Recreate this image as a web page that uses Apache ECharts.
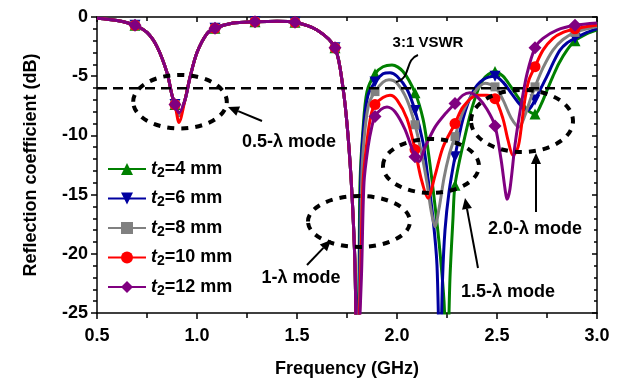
<!DOCTYPE html>
<html>
<head>
<meta charset="utf-8">
<script src="https://cdn.jsdelivr.net/npm/echarts@6/dist/echarts.min.js"></script>
<style>
  html, body { margin: 0; padding: 0; background: #fff; }
  #chart { width: 622px; height: 384px; }
</style>
</head>
<body>
<div id="chart"></div>
<script>
// ---- Data: reflection coefficient (dB) versus frequency (GHz) ----
const thicknessMm = [4, 6, 8, 10, 12];
const markerFreqs = [0.69, 0.89, 1.09, 1.29, 1.49, 1.69, 1.89, 2.09, 2.29, 2.49, 2.69, 2.89];

// Part of the response shared by all thicknesses (0.5-λ mode and the 1-λ notch)
const headFreq = [0.5, 0.6, 0.69, 0.75, 0.8, 0.85, 0.875, 0.89, 0.91, 0.94, 0.965, 1.0, 1.05, 1.09,
                  1.18, 1.29, 1.4, 1.49, 1.6, 1.69, 1.73, 1.755, 1.775, 1.79, 1.8];
const headDb = [-0.1, -0.3, -0.7, -1.3, -2.5, -4.7, -6.6, -7.4, null, -7.0, -5.1, -3.0, -1.4, -0.95,
                -0.5, -0.4, -0.35, -0.45, -1.1, -2.6, -6.0, -10.0, -15.0, -21.0, -30.0];
// depth of the 0.5-λ notch for each thickness
const halfLambdaDipDb = [-8.3, -8.3, -8.3, -8.9, -8.1];

// 1-λ, 1.5-λ and 2.0-λ region for each thickness: [GHz, dB]
const tailT4 = [[1.81,-22],[1.815,-14],[1.83,-9.5],[1.85,-6.3],[1.89,-4.8],[1.93,-4.2],[1.975,-4.05],
  [2.03,-4.6],[2.09,-6.4],[2.13,-8.6],[2.155,-11.2],[2.18,-14.5],[2.21,-19],[2.235,-24],[2.25,-30],
  [2.265,-22],[2.28,-17],[2.29,-14.2],[2.33,-10.8],[2.38,-7.4],[2.43,-5.3],[2.49,-4.6],[2.53,-5.0],
  [2.57,-5.9],[2.61,-6.9],[2.65,-7.8],[2.69,-8.2],[2.72,-7.4],[2.75,-6.2],[2.78,-5.0],[2.81,-3.9],
  [2.85,-2.8],[2.89,-2.0],[2.95,-1.4],[3.0,-1.1]];
const tailT6 = [[1.812,-22],[1.82,-13],[1.835,-9],[1.855,-6.6],[1.89,-5.5],[1.93,-4.8],[1.965,-4.7],
  [2.0,-5.0],[2.05,-6.1],[2.09,-7.9],[2.13,-10.6],[2.15,-13],[2.18,-17],[2.2,-21],[2.215,-30],
  [2.228,-22],[2.24,-18],[2.26,-14.8],[2.29,-11.8],[2.33,-8.6],[2.38,-6.3],[2.43,-5.3],[2.49,-5.0],
  [2.53,-5.5],[2.57,-6.4],[2.61,-7.3],[2.65,-7.9],[2.67,-7.6],[2.69,-7.0],[2.72,-6.0],[2.75,-5.0],
  [2.78,-3.9],[2.815,-2.8],[2.85,-2.2],[2.89,-1.8],[2.95,-1.3],[3.0,-1.0]];
const tailT8 = [[1.815,-22],[1.825,-13],[1.84,-9.5],[1.86,-7.3],[1.89,-6.3],[1.93,-5.5],[1.96,-5.3],
  [2.0,-5.6],[2.05,-7.0],[2.09,-9.1],[2.12,-11.3],[2.15,-14],[2.17,-16.3],[2.19,-17.7],[2.21,-16.2],
  [2.235,-13.6],[2.26,-11.7],[2.29,-10.1],[2.33,-8.0],[2.38,-6.5],[2.44,-5.6],[2.49,-5.9],[2.53,-7.0],
  [2.57,-8.5],[2.61,-9.3],[2.64,-8.3],[2.67,-6.8],[2.69,-5.9],[2.73,-4.3],[2.78,-2.8],[2.83,-1.9],
  [2.89,-1.3],[2.95,-1.0],[3.0,-0.8]];
const tailT10 = [[1.818,-22],[1.83,-14],[1.85,-10.5],[1.87,-8.3],[1.89,-7.4],[1.93,-6.8],[1.965,-6.6],
  [2.0,-7.0],[2.05,-8.6],[2.09,-11.2],[2.12,-13.6],[2.155,-15.3],[2.19,-13.4],[2.23,-11.0],[2.29,-9.0],
  [2.33,-7.6],[2.4,-6.6],[2.45,-6.6],[2.49,-6.9],[2.53,-8.6],[2.555,-10.4],[2.58,-11.7],[2.605,-11.0],
  [2.62,-9.5],[2.64,-6.9],[2.66,-5.3],[2.69,-4.2],[2.73,-2.8],[2.78,-1.8],[2.83,-1.3],[2.89,-1.0],
  [2.95,-0.8],[3.0,-0.7]];
const tailT12 = [[1.822,-22],[1.835,-14],[1.855,-11],[1.875,-9.2],[1.89,-8.4],[1.92,-7.8],[1.95,-7.6],
  [1.99,-8.0],[2.04,-9.5],[2.09,-11.8],[2.11,-12.2],[2.14,-11.0],[2.19,-9.3],[2.24,-8.2],[2.29,-7.3],
  [2.33,-6.6],[2.365,-6.4],[2.41,-6.9],[2.45,-7.8],[2.49,-9.2],[2.52,-12.0],[2.54,-14.5],[2.55,-15.4],
  [2.565,-14.5],[2.59,-10.8],[2.62,-7.5],[2.65,-4.8],[2.69,-2.6],[2.73,-1.8],[2.8,-1.1],[2.89,-0.7],
  [3.0,-0.5]];
const tails = [tailT4, tailT6, tailT8, tailT10, tailT12];

// 3:1 VSWR reference level
const vswrDb = -6.02;

// Axis ticks
const xTicks = { min: 0.5, max: 3.0, step: 0.5 };
const yTicks = { min: -25, max: 0, step: 5 };

// ---- Styling ----
const FONT = 'Arial, "Liberation Sans", Helvetica, sans-serif';
const colors = ['#008000', '#0000A0', '#808080', '#FF0000', '#800080'];
const symbols = ['triangle', 'triangle', 'rect', 'circle', 'diamond'];
const symbolRotations = [0, 180, 0, 0, 0];
const symbolSizes = [11, 11, 9, 11, 13];

// Annotation layout, in axis units (GHz, dB)
const modeLabels = ['0.5-λ mode', '1-λ mode', '1.5-λ mode', '2.0-λ mode'];
const modeLabelAt = [[1.46, -10.56], [1.52, -22.05], [2.555, -23.2], [2.69, -17.9]];
const modeRings = [[0.915, -7.15, 0.234, 2.26], [1.81, -17.27, 0.255, 2.15],
                   [2.17, -12.58, 0.24, 2.28], [2.625, -8.78, 0.255, 2.62]];
const modeArrows = [[[1.325, -8.78], [1.155, -7.6]], [[1.55, -20.95], [1.67, -18.83]],
                    [[2.405, -21.2], [2.34, -15.29]], [[2.695, -16.47], [2.695, -11.49]]];
const vswrLabelAt = [2.155, -2.2];
const vswrPointer = [[2.105, -3.21], [2.035, -3.63], [2.075, -5.15], [1.995, -5.49]];

const names = thicknessMm.map(t => 't2=' + t + ' mm');
const isMarker = f => markerFreqs.some(m => Math.abs(m - f) < 1e-6);

function buildSeriesData(i) {
  const pts = headFreq.map((f, k) => [f, headDb[k] === null ? halfLambdaDipDb[i] : headDb[k]]);
  return pts.concat(tails[i]).map(p => isMarker(p[0]) ? { value: p } : { value: p, symbol: 'none' });
}

const series = thicknessMm.map((t, i) => ({
  name: names[i],
  type: 'line',
  data: buildSeriesData(i),
  smooth: 0.3,
  clip: true,
  symbol: symbols[i],
  symbolRotate: symbolRotations[i],
  symbolSize: symbolSizes[i],
  showSymbol: true,
  showAllSymbol: true,
  lineStyle: { color: colors[i], width: 3 },
  itemStyle: { color: colors[i] },
  z: 2 + i
}));

series.push({
  name: 'VSWR',
  type: 'line',
  data: [[xTicks.min, vswrDb], [xTicks.max, vswrDb]],
  symbol: 'none',
  lineStyle: { color: '#000', width: 2.6, type: [10, 6] },
  z: 10,
  silent: true
});

const axisLineStyle = { color: '#000', width: 1.5 };
const tickLabel = { color: '#000', fontFamily: FONT, fontWeight: 'bold', fontSize: 18 };

const chart = echarts.init(document.getElementById('chart'), null, { renderer: 'canvas' });
chart.setOption({
  animation: false,
  backgroundColor: '#fff',
  grid: { left: 97, right: 25, top: 17, bottom: 71 },
  legend: {
    data: names,
    orient: 'vertical',
    left: 107,
    top: 160,
    padding: 0,
    itemWidth: 38,
    itemHeight: 15,
    itemGap: 9.5,
    formatter: name => '{i|t}{s|2}{n|' + name.slice(2) + '}',
    textStyle: {
      color: '#000',
      fontFamily: FONT,
      rich: {
        i: { fontFamily: FONT, fontStyle: 'italic', fontWeight: 'bold', fontSize: 18, lineHeight: 22, color: '#000' },
        s: { fontFamily: FONT, fontWeight: 'bold', fontSize: 14, lineHeight: 14, verticalAlign: 'bottom', color: '#000' },
        n: { fontFamily: FONT, fontWeight: 'bold', fontSize: 18, lineHeight: 22, color: '#000' }
      }
    }
  },
  xAxis: [{
    type: 'value', min: xTicks.min, max: xTicks.max, interval: xTicks.step,
    name: 'Frequency (GHz)', nameLocation: 'middle', nameGap: 47,
    nameTextStyle: { color: '#000', fontFamily: FONT, fontWeight: 'bold', fontSize: 18 },
    axisLine: { show: true, onZero: false, lineStyle: axisLineStyle },
    axisTick: { show: true, inside: false, length: 6, lineStyle: axisLineStyle },
    minorTick: { show: true, splitNumber: 2, length: 5, lineStyle: axisLineStyle },
    axisLabel: Object.assign({ margin: 14, formatter: v => v.toFixed(1) }, tickLabel),
    splitLine: { show: false }
  }, {
    type: 'value', position: 'top', min: xTicks.min, max: xTicks.max, interval: xTicks.step,
    axisLine: { show: true, onZero: false, lineStyle: axisLineStyle },
    axisTick: { show: true, inside: true, length: 5, lineStyle: axisLineStyle },
    minorTick: { show: true, splitNumber: 2, length: 4, lineStyle: axisLineStyle },
    axisLabel: { show: false },
    splitLine: { show: false }
  }],
  yAxis: [{
    type: 'value', min: yTicks.min, max: yTicks.max, interval: yTicks.step,
    name: 'Reflection coefficient (dB)', nameLocation: 'middle', nameGap: 57,
    nameTextStyle: { color: '#000', fontFamily: FONT, fontWeight: 'bold', fontSize: 18 },
    axisLine: { show: true, onZero: false, lineStyle: axisLineStyle },
    axisTick: { show: true, inside: false, length: 6, lineStyle: axisLineStyle },
    minorTick: { show: true, splitNumber: 5, length: 4, lineStyle: axisLineStyle },
    axisLabel: Object.assign({ margin: 9 }, tickLabel),
    splitLine: { show: false }
  }, {
    type: 'value', position: 'right', min: yTicks.min, max: yTicks.max, interval: yTicks.step,
    axisLine: { show: true, onZero: false, lineStyle: axisLineStyle },
    axisTick: { show: true, inside: true, length: 5, lineStyle: axisLineStyle },
    minorTick: { show: true, splitNumber: 5, length: 3, lineStyle: axisLineStyle },
    axisLabel: { show: false },
    splitLine: { show: false }
  }],
  series: series
});

// ---- Annotations: mode rings, arrows and labels ----
const px = p => chart.convertToPixel({ xAxisIndex: 0, yAxisIndex: 0 }, p);
const annoFont = 'bold 18px ' + FONT;
const graphics = [];

modeRings.forEach(r => {
  const c = px([r[0], r[1]]);
  const e = px([r[0] + r[2], r[1] - r[3]]);
  graphics.push({
    type: 'ellipse', z: 100, silent: true,
    shape: { cx: c[0], cy: c[1], rx: Math.abs(e[0] - c[0]), ry: Math.abs(e[1] - c[1]) },
    style: { fill: 'none', stroke: '#000', lineWidth: 4, lineDash: [7, 7] }
  });
});

function arrow(from, to) {
  const a = px(from), b = px(to);
  const ang = Math.atan2(b[1] - a[1], b[0] - a[0]);
  const len = 11, half = 5;
  const base = [b[0] - len * Math.cos(ang), b[1] - len * Math.sin(ang)];
  graphics.push({
    type: 'line', z: 100, silent: true,
    shape: { x1: a[0], y1: a[1], x2: base[0], y2: base[1] },
    style: { stroke: '#000', lineWidth: 2 }
  });
  graphics.push({
    type: 'polygon', z: 100, silent: true,
    shape: { points: [b,
      [base[0] + half * Math.sin(ang), base[1] - half * Math.cos(ang)],
      [base[0] - half * Math.sin(ang), base[1] + half * Math.cos(ang)]] },
    style: { fill: '#000' }
  });
}
modeArrows.forEach(a => arrow(a[0], a[1]));

modeLabels.forEach((txt, i) => {
  const p = px(modeLabelAt[i]);
  graphics.push({
    type: 'text', z: 100, silent: true, x: p[0], y: p[1],
    style: { text: txt, font: annoFont, fill: '#000', align: 'center', verticalAlign: 'middle' }
  });
});

const vl = px(vswrLabelAt);
graphics.push({
  type: 'text', z: 100, silent: true, x: vl[0], y: vl[1],
  style: { text: '3:1 VSWR', font: 'bold 15px ' + FONT, fill: '#000', align: 'center', verticalAlign: 'middle' }
});
const vp = vswrPointer.map(px);
graphics.push({
  type: 'bezierCurve', z: 100, silent: true,
  shape: { x1: vp[0][0], y1: vp[0][1], cpx1: vp[1][0], cpy1: vp[1][1],
           cpx2: vp[2][0], cpy2: vp[2][1], x2: vp[3][0], y2: vp[3][1] },
  style: { stroke: '#000', lineWidth: 2, fill: 'none' }
});

chart.setOption({ graphic: graphics });
</script>
</body>
</html>
